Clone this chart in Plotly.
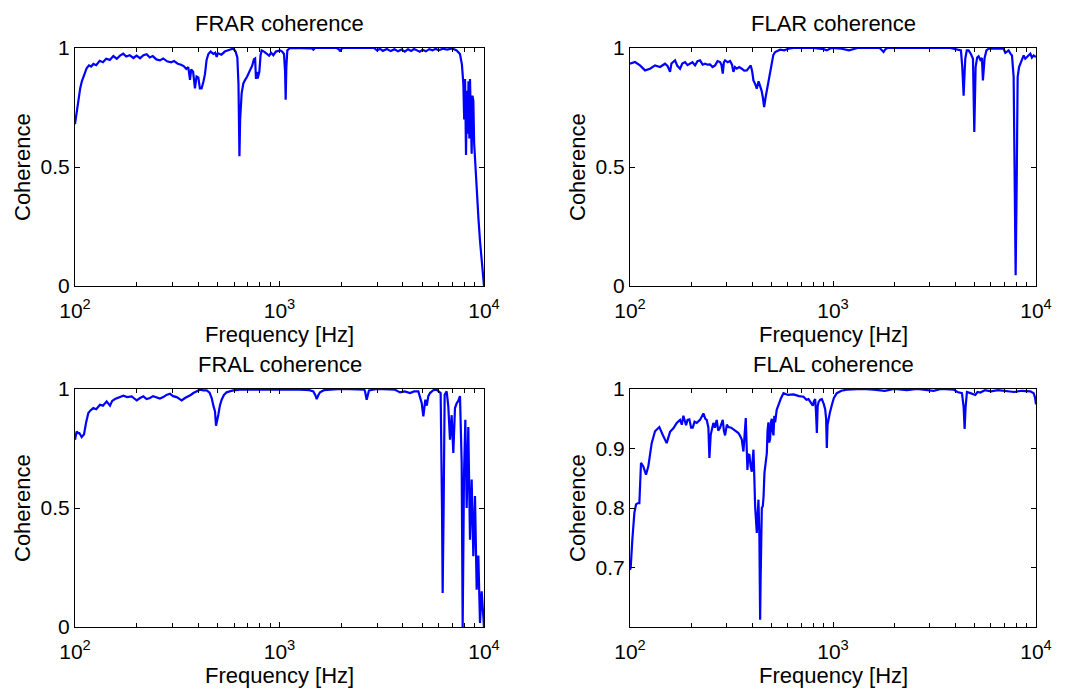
import plotly.graph_objects as go

# ---------------- data ----------------
frar_f = [100, 102, 104, 106, 108, 111, 114, 117, 120, 123, 127, 132, 137, 142, 148, 154, 160, 166, 172, 178,
          185, 193, 200, 208, 216, 224, 232, 240, 250, 260, 270, 282, 295, 305, 318, 330, 340, 350, 358, 365,
          370, 378, 386, 393, 401, 408, 416, 425, 432, 440, 449, 460, 475, 485, 493, 500, 520, 540, 555, 575,
          595, 610, 622, 630, 637, 642, 653, 665, 678, 695, 717, 735, 750, 760, 767, 775, 782, 797, 808, 818,
          840, 865, 890, 910, 933, 960, 990, 1006, 1030, 1052, 1065, 1072, 1080, 1092, 1126, 1300, 1440, 1464,
          1490, 1900, 1950, 1976, 2010, 2050, 2900, 3000, 3100, 3200, 3350, 3500, 3650, 3800, 3950, 4100, 4250,
          4400, 4550, 4700, 4850, 5000, 5200, 5400, 5600, 5800, 6000, 6300, 6600, 7000, 7350, 7630, 7800, 7925,
          8000, 8080, 8166, 8250, 8320, 8400, 8480, 8541, 8620, 8703, 8780, 8868, 8950, 9036, 9150, 9276, 9400,
          9559, 9700, 9815, 9900, 10000]
frar_c = [0.68, 0.73, 0.80, 0.83, 0.86, 0.89, 0.915, 0.927, 0.922, 0.933, 0.928, 0.946, 0.94, 0.955, 0.95, 0.966,
          0.955, 0.968, 0.976, 0.964, 0.97, 0.958, 0.968, 0.957, 0.97, 0.974, 0.96, 0.966, 0.952, 0.948, 0.956,
          0.944, 0.94, 0.945, 0.934, 0.93, 0.924, 0.912, 0.92, 0.866, 0.91, 0.90, 0.83, 0.88, 0.876, 0.83, 0.83,
          0.86, 0.89, 0.95, 0.975, 0.985, 0.975, 0.98, 0.963, 0.978, 0.972, 0.985, 0.99, 0.994, 0.997, 0.985,
          0.96, 0.85, 0.545, 0.70, 0.81, 0.85, 0.865, 0.88, 0.906, 0.925, 0.953, 0.956, 0.87, 0.90, 0.872, 0.90,
          0.97, 0.99, 0.985, 0.975, 0.968, 0.98, 0.97, 0.985, 0.99, 0.99, 0.985, 0.975, 0.90, 0.783, 0.92, 0.99,
          1.0, 1.0, 0.998, 0.993, 1.0, 1.0, 0.995, 0.986, 0.997, 1.0, 1.0, 0.99, 0.997, 0.988, 0.996, 0.987,
          0.995, 0.986, 0.994, 0.985, 0.995, 0.988, 0.996, 0.99, 0.984, 0.993, 0.986, 0.995, 0.99, 0.997, 0.99,
          0.997, 0.993, 0.998, 0.99, 0.975, 0.93, 0.85, 0.70, 0.87, 0.55, 0.82, 0.64, 0.86, 0.62, 0.87, 0.60,
          0.556, 0.80, 0.78, 0.60, 0.528, 0.45, 0.36, 0.28, 0.19, 0.12, 0.05, 0.02, 0.0]

flar_f = [100, 105.8, 112, 118.6, 125.5, 132.8, 140.6, 148.8, 153, 157.5, 160, 166.7, 171, 176.4, 181, 186.7,
          192, 197.6, 203, 209.2, 215, 221.3, 228, 234.3, 241, 248, 255, 262.5, 270, 277.8, 282, 286.4, 290,
          294, 303, 311.2, 318, 323.2, 329, 335.7, 345, 355.3, 365, 376.1, 385, 393.5, 400, 405.6, 413, 421.3,
          430, 437.5, 445, 451, 457.9, 465, 472, 480, 486.5, 492, 499.5, 508, 518.8, 535, 549, 575, 603.4, 639,
          800, 900, 932, 980, 1100, 1200, 1262, 1320, 1700, 1740, 1774, 1810, 1850, 3783, 4000, 4150, 4268,
          4334, 4400, 4450, 4484, 4560, 4656, 4780, 4892, 4966, 5041, 5130, 5215, 5320, 5416, 5477, 5582, 5700,
          5843, 6929, 7061, 7200, 7333, 7500, 7615, 7760, 7849, 7938, 8029, 8121, 8250, 8369, 8530, 8694, 8850,
          9029, 9200, 9376, 9550, 9739, 10000]
flar_c = [0.934, 0.941, 0.927, 0.906, 0.913, 0.927, 0.92, 0.934, 0.925, 0.90, 0.935, 0.948, 0.925, 0.913, 0.935,
          0.941, 0.928, 0.934, 0.94, 0.927, 0.945, 0.948, 0.93, 0.934, 0.93, 0.931, 0.92, 0.927, 0.945, 0.941,
          0.93, 0.892, 0.94, 0.948, 0.94, 0.945, 0.93, 0.90, 0.92, 0.913, 0.92, 0.913, 0.905, 0.906, 0.918, 0.927,
          0.90, 0.864, 0.85, 0.829, 0.86, 0.84, 0.82, 0.794, 0.752, 0.79, 0.822, 0.85, 0.878, 0.92, 0.948, 0.97,
          0.983, 0.99, 0.993, 0.99, 0.997, 1.0, 1.0, 0.995, 0.99, 1.0, 0.997, 0.99, 0.995, 1.0, 1.0, 0.99, 0.983,
          0.995, 1.0, 1.0, 0.995, 0.992, 0.99, 0.92, 0.80, 0.90, 0.955, 0.99, 0.99, 0.975, 0.955, 0.647, 0.92,
          0.96, 0.965, 0.95, 0.958, 0.864, 0.958, 0.99, 0.997, 0.997, 0.98, 0.985, 0.99, 0.975, 0.969, 0.878,
          0.416, 0.045, 0.416, 0.878, 0.92, 0.934, 0.95, 0.969, 0.955, 0.962, 0.97, 0.976, 0.96, 0.969, 0.962]

fral_f = [100, 101.9, 103.5, 105, 107.8, 110.7, 113.2, 116.2, 119, 122.9, 127, 132.5, 137, 142.8, 148.3, 152,
          156.9, 164, 172.3, 180, 189.3, 195, 200.3, 208, 215.9, 224, 232.6, 241, 250.8, 260, 270.3, 280, 291.4,
          302, 314.1, 323, 332.3, 345, 358.2, 368, 379, 393, 408.6, 425, 440.5, 455, 465.9, 475, 483.7, 489.2,
          495, 502.2, 511, 521.4, 535, 551.6, 570, 594.8, 640, 691.1, 760, 865.4, 1000, 1259, 1400, 1464, 1495,
          1520, 1550, 1578, 1650, 1766, 2000, 2600, 2619, 2668, 2700, 2739, 3000, 3600, 3671, 3800, 3883, 4100,
          4346, 4550, 4775, 4958, 5051, 5166, 5250, 5342, 5443, 5650, 5868, 6000, 6138, 6231, 6278, 6349, 6421,
          6567, 6691, 6818, 6947, 7079, 7213, 7350, 7489, 7632, 7777, 7865, 7984, 8105, 8227, 8381, 8541, 8703,
          8868, 9036, 9209, 9382, 9559, 9741, 9925, 10000]
fral_c = [0.787, 0.822, 0.815, 0.815, 0.798, 0.81, 0.857, 0.899, 0.91, 0.92, 0.915, 0.934, 0.93, 0.948, 0.93,
          0.95, 0.958, 0.965, 0.972, 0.966, 0.969, 0.96, 0.952, 0.962, 0.969, 0.958, 0.962, 0.97, 0.966, 0.96,
          0.966, 0.975, 0.98, 0.97, 0.966, 0.958, 0.952, 0.962, 0.969, 0.975, 0.983, 0.99, 0.997, 0.994, 0.994,
          0.985, 0.962, 0.93, 0.906, 0.846, 0.875, 0.892, 0.93, 0.955, 0.975, 0.986, 0.99, 0.994, 0.997, 0.997,
          0.998, 1.0, 1.0, 0.997, 0.995, 0.99, 0.975, 0.958, 0.975, 0.986, 0.995, 0.997, 1.0, 0.997, 0.99, 0.955,
          0.98, 0.994, 1.0, 1.0, 0.997, 0.99, 0.986, 0.99, 0.983, 0.99, 0.99, 0.941, 0.885, 0.955, 0.93, 0.97,
          0.983, 0.995, 0.997, 0.99, 0.983, 0.507, 0.143, 0.507, 0.976, 0.99, 0.927, 0.787, 0.89, 0.731, 0.92,
          0.94, 0.95, 0.97, 0.689, 0.0, 0.64, 0.871, 0.50, 0.84, 0.367, 0.62, 0.297, 0.55, 0.157, 0.30, 0.017,
          0.15, 0.0, 0.0]

flal_f = [100, 100.8, 102.7, 105.1, 107.1, 109, 111.2, 113.3, 116.3, 119.9, 123.1, 127.9, 132.8, 139.5, 144.9,
          148, 151.6, 157.5, 163.6, 169.9, 176.4, 180, 183.2, 188.9, 192, 196.1, 200, 203.7, 208, 213.2, 221.3,
          229.9, 235, 238.8, 243.3, 246.1, 249.8, 257.5, 262, 267.4, 272, 277.8, 282, 286.4, 290, 294, 300, 305.4,
          315, 323.2, 333, 342.1, 350, 355.3, 362.1, 367, 371.8, 375, 378.8, 383, 387.6, 393, 398.1, 402, 405.6,
          409, 413.4, 421.3, 425, 429.3, 434, 437.5, 440, 442.5, 446, 451, 455, 459.6, 465, 472, 476, 480.8, 485,
          490, 495, 499.5, 504, 509, 514, 518.8, 528, 538.8, 555, 570.2, 600, 639, 680, 715.6, 740, 757.3, 775,
          795.6, 806, 817, 825, 832.6, 840, 848.5, 865, 881.2, 900, 915, 925, 932.3, 940, 950.1, 965, 987, 1010,
          1044, 1100, 1170, 1400, 1584, 1800, 2000, 2312, 2600, 3130, 3400, 3928, 4100, 4317, 4400, 4450, 4500,
          4569, 4750, 5022, 5150, 5317, 5600, 6000, 6500, 7194, 7800, 8500, 9000, 9378, 9739, 9900, 10000]
flal_c = [0.696, 0.70, 0.747, 0.792, 0.806, 0.808, 0.808, 0.876, 0.87, 0.856, 0.87, 0.909, 0.929, 0.936, 0.923,
          0.915, 0.909, 0.928, 0.934, 0.943, 0.948, 0.94, 0.955, 0.939, 0.948, 0.949, 0.935, 0.935, 0.945, 0.943,
          0.948, 0.959, 0.95, 0.948, 0.935, 0.884, 0.923, 0.943, 0.935, 0.948, 0.93, 0.935, 0.94, 0.948, 0.93,
          0.922, 0.94, 0.936, 0.935, 0.932, 0.93, 0.926, 0.92, 0.915, 0.895, 0.92, 0.951, 0.91, 0.864, 0.89, 0.889,
          0.87, 0.861, 0.88, 0.898, 0.86, 0.803, 0.758, 0.80, 0.814, 0.75, 0.612, 0.68, 0.74, 0.80, 0.803, 0.82,
          0.859, 0.87, 0.892, 0.93, 0.944, 0.91, 0.916, 0.945, 0.95, 0.93, 0.922, 0.955, 0.944, 0.965, 0.974,
          0.985, 0.993, 0.99, 0.991, 0.988, 0.987, 0.982, 0.983, 0.978, 0.972, 0.98, 0.983, 0.96, 0.926, 0.97,
          0.978, 0.982, 0.983, 0.975, 0.966, 0.95, 0.901, 0.94, 0.95, 0.96, 0.973, 0.985, 0.993, 0.997, 0.999,
          1.0, 0.999, 0.997, 1.0, 0.998, 1.0, 0.997, 1.0, 0.999, 0.995, 0.993, 0.97, 0.933, 0.97, 0.995, 0.993,
          0.99, 0.995, 0.994, 0.998, 0.996, 0.998, 0.997, 0.995, 0.997, 0.996, 0.996, 0.993, 0.985, 0.974]

titles = ["FRAR coherence", "FLAR coherence", "FRAL coherence", "FLAL coherence"]
x_tickvals = [100, 1000, 10000]
x_ticktext = ["10<sup>2</sup>", "10<sup>3</sup>", "10<sup>4</sup>"]
x_minor = [200, 300, 400, 500, 600, 700, 800, 900, 2000, 3000, 4000, 5000, 6000, 7000, 8000, 9000]
y_ticks_full = [0, 0.5, 1]
y_ticktext_full = ["0", "0.5", "1"]
y_ticks_flal = [0.7, 0.8, 0.9, 1]
y_ticktext_flal = ["0.7", "0.8", "0.9", "1"]
x_label = "Frequency [Hz]"
y_label = "Coherence"

# ---------------- layout geometry (pixels in the 1085x694 page) ----------------
W, H = 1085, 694
FONT = "Liberation Sans, Arial, Helvetica, sans-serif"
cols = [(75, 484), (630, 1036)]
rows = [(48, 286), (389, 627)]

def xd(a, b):
    return [a / W, b / W]

def yd(top, bottom):
    return [1 - bottom / H, 1 - top / H]

series = [(frar_f, frar_c), (flar_f, flar_c), (fral_f, fral_c), (flal_f, flal_c)]
yranges = [[0, 1], [0, 1], [0, 1], [0.6, 1]]
yticks = [(y_ticks_full, y_ticktext_full)] * 3 + [(y_ticks_flal, y_ticktext_flal)]

fig = go.Figure()
annotations = []
for i, ((f, c), title) in enumerate(zip(series, titles)):
    r, k = divmod(i, 2)
    sfx = "" if i == 0 else str(i + 1)
    fig.add_trace(go.Scatter(x=f, y=c, mode="lines", line=dict(color="#0000ff", width=2.2),
                             xaxis="x" + sfx, yaxis="y" + sfx, showlegend=False, hoverinfo="x+y"))
    ax = dict(type="log", range=[2, 4], domain=xd(*cols[k]), anchor="y" + sfx, automargin=False,
              tickvals=x_tickvals, ticktext=x_ticktext, ticks="inside", ticklen=5, tickcolor="black",
              showline=True, linecolor="black", linewidth=1, mirror="ticks", showgrid=False, zeroline=False,
              ticklabelstandoff=6,
              tickfont=dict(family=FONT, size=21, color="black"),
              minor=dict(tickvals=x_minor, ticks="inside", ticklen=4, tickcolor="black", showgrid=False))
    ay = dict(range=yranges[i], domain=yd(*rows[r]), anchor="x" + sfx, automargin=False,
              tickvals=yticks[i][0], ticktext=yticks[i][1], ticks="inside", ticklen=5, tickcolor="black",
              showline=True, linecolor="black", linewidth=1, mirror="ticks", showgrid=False, zeroline=False,
              tickfont=dict(family=FONT, size=21, color="black"))
    fig.update_layout({"xaxis" + sfx: ax, "yaxis" + sfx: ay})

    cx = (cols[k][0] + cols[k][1]) / 2
    top, bottom = rows[r]
    annotations.append(dict(text=title, x=cx / W, y=1 - (top - 25) / H, xref="paper", yref="paper",
                            xanchor="center", yanchor="middle", showarrow=False,
                            font=dict(family=FONT, size=22, color="black")))
    annotations.append(dict(text=x_label, x=cx / W, y=1 - (bottom + 48) / H, xref="paper", yref="paper",
                            xanchor="center", yanchor="middle", showarrow=False,
                            font=dict(family=FONT, size=22, color="black")))
    annotations.append(dict(text=y_label, x=(cols[k][0] - 53) / W, y=1 - ((top + bottom) / 2) / H,
                            xref="paper", yref="paper", xanchor="center", yanchor="middle",
                            textangle=-90, showarrow=False,
                            font=dict(family=FONT, size=22, color="black")))

fig.update_layout(width=W, height=H, margin=dict(l=0, r=0, t=0, b=0), autosize=False,
                  paper_bgcolor="white", plot_bgcolor="white", annotations=annotations,
                  font=dict(family=FONT, color="black"))

fig.write_html("out.html", config={"displayModeBar": False},
               post_script="document.body.style.margin='0';document.body.style.overflow='hidden';")
